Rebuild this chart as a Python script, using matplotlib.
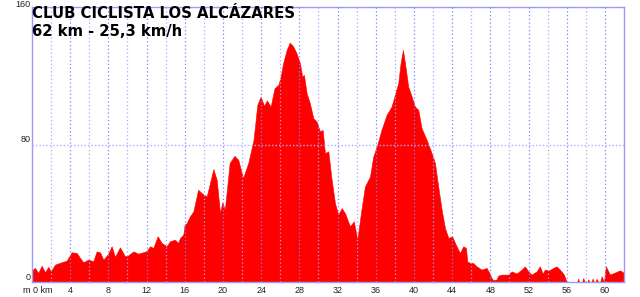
import matplotlib
matplotlib.use("Agg")
import matplotlib.pyplot as plt

# distance (km) and altitude (m)
dist = [0.0, 0.07, 0.31, 0.66, 1.01, 1.36, 1.71, 1.96, 2.41, 3.1, 3.63,
        4.15, 4.68, 5.03, 5.37, 5.9, 6.42, 6.77, 7.12, 7.47, 7.99, 8.34,
        8.69, 9.21, 9.74, 10.09, 10.61, 11.13, 11.65, 12.0, 12.36, 12.7,
        13.16, 13.58, 14.1, 14.45, 14.97, 15.3, 15.5, 15.84, 15.99, 16.2,
        16.54, 16.9, 17.25, 17.4, 17.77, 18.3, 18.64, 18.99, 19.34, 19.69,
        19.93, 20.2, 20.7, 21.2, 21.6, 22.1, 22.65, 23.2, 23.6, 23.95,
        24.3, 24.6, 25.0, 25.4, 25.8, 26.04, 26.3, 26.67, 27.0, 27.36,
        27.7, 28.06, 28.3, 28.48, 28.76, 29.1, 29.46, 29.8, 30.16, 30.44,
        30.68, 31.03, 31.38, 31.73, 32.07, 32.43, 32.77, 33.3, 33.7, 34.07,
        34.5, 34.87, 35.4, 35.74, 36.16, 36.6, 37.14, 37.66, 38.0, 38.36,
        38.6, 38.85, 39.06, 39.4, 39.76, 40.1, 40.45, 40.8, 41.33, 41.85,
        42.2, 42.54, 42.9, 43.25, 43.6, 44.0, 44.3, 44.64, 44.82, 45.17,
        45.45, 45.58, 45.86, 46.2, 46.56, 47.09, 47.61, 47.89, 48.13, 48.3,
        48.66, 48.83, 49.18, 49.88, 50.23, 50.75, 51.28, 51.62, 51.97,
        52.32, 52.85, 53.19, 53.47, 53.72, 54.17, 54.59, 54.94, 55.29,
        55.71, 55.99, 57.1, 57.2, 57.3, 57.6, 57.73, 57.9, 58.15, 58.25,
        58.4, 58.6, 58.71, 58.85, 59.0, 59.13, 59.3, 59.5, 59.65, 59.9,
        60.1, 60.52, 61.05, 61.57, 61.92, 62.0]
elev = [7.0, 7.2, 8.2, 5.3, 9.5, 5.7, 8.8, 6.2, 10.1, 11.5, 12.4,
        17.3, 16.9, 14.0, 11.5, 13.0, 12.1, 17.8, 17.3, 13.0, 16.5, 20.8,
        14.6, 20.2, 14.9, 15.5, 17.8, 16.5, 17.3, 18.0, 20.8, 19.8,
        26.6, 22.7, 20.8, 23.7, 24.6, 22.7, 25.6, 27.5, 33.4, 34.3,
        38.2, 41.1, 50.0, 53.7, 51.7, 49.8, 57.6, 65.7, 59.5, 40.1,
        46.3, 42.1, 69.2, 73.4, 71.1, 60.5, 69.2, 82.7, 103.1, 107.9,
        102.5, 105.6, 102.1, 112.8, 114.7, 119.5, 127.3, 135.0, 139.3, 137.0,
        133.1, 127.3, 119.5, 120.5, 109.9, 104.0, 95.3, 93.4, 87.6, 88.5,
        75.0, 76.0, 59.5, 45.9, 39.2, 43.0, 40.1, 32.4, 35.3, 24.6,
        42.1, 55.6, 61.4, 73.0, 79.8, 88.5, 97.3, 102.1, 108.9, 115.7,
        127.3, 135.0, 127.3, 113.7, 107.9, 102.1, 100.2, 89.5, 82.7, 75.0,
        69.2, 55.6, 42.1, 31.4, 25.6, 26.6, 22.7, 18.8, 16.9, 20.8,
        19.8, 12.0, 11.1, 11.1, 9.1, 7.2, 8.2, 5.3, 2.4, 1.0,
        1.5, 3.7, 4.3, 4.3, 6.2, 4.9, 7.2, 9.1, 6.2,
        4.3, 6.2, 9.1, 4.9, 7.2, 6.8, 8.2, 9.1, 7.2,
        4.3, 0.0, 0.0, 2.0, 0.0, 0.0, 2.3, 0.0, 0.0, 1.5,
        0.0, 0.0, 2.0, 0.0, 0.0, 1.8, 0.0, 0.0, 3.3, 0.0,
        9.1, 4.3, 5.5, 6.8, 5.6, 5.0]

xticks = [4, 8, 12, 16, 20, 24, 28, 32, 36, 40, 44, 48, 52, 56, 60]
yticks = [0, 80, 160]
title1 = "CLUB CICLISTA LOS ALCÁZARES"
title2 = "62 km - 25,3 km/h"

fig = plt.figure(figsize=(6.4, 2.97), dpi=100)
ax = fig.add_axes([32 / 640, 1 - 282 / 297, 592 / 640, 275 / 297])
ax.set_xlim(0, 62)
ax.set_ylim(0, 160)

ax.fill_between(dist, elev, 0, color="#ff0000", lw=0.4, zorder=2)

# dotted grid drawn over the profile
for x in range(2, 62, 2):
    c = "#8080ff" if x % 4 == 0 else "#a8a8ff"
    ax.axvline(x, color=c, lw=0.9, ls=(0, (1, 2)), zorder=3)
ax.axhline(80, color="#b0b0ff", lw=1.0, ls=(0, (1, 1.5)), zorder=3)

for s in ax.spines.values():
    s.set_color("#9a9aff")
    s.set_linewidth(1.0)

ax.set_xticks([])
ax.set_yticks([])
lab = dict(fontsize=6.5, family="Liberation Sans", color="#222222")
for y in yticks:
    ax.text(-0.15, y - (1.2 if y == 160 else 0), str(y), ha="right",
            va="bottom", **lab)
for x in xticks:
    ax.text(x, -2.5, str(x), ha="center", va="top", **lab)
ax.text(-0.95, -2.5, "m 0 km", ha="left", va="top", **lab)

fig.text(32 / 640, 1 - 6.5 / 297, title1, fontsize=10.7, fontweight="bold",
         family="DejaVu Sans", va="top", ha="left")
fig.text(32 / 640, 1 - 24.5 / 297, title2, fontsize=10.7, fontweight="bold",
         family="DejaVu Sans", va="top", ha="left")

fig.savefig("out.png", dpi=100)
